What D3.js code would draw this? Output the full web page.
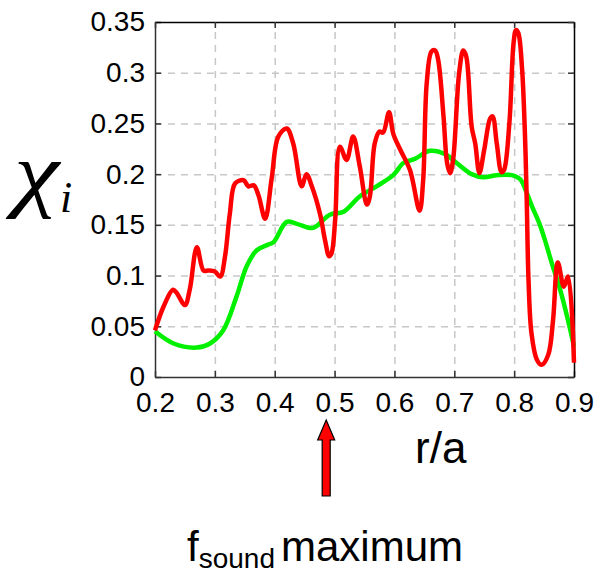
<!DOCTYPE html>
<html>
<head>
<meta charset="utf-8">
<script src="https://cdn.jsdelivr.net/npm/d3@7"></script>
<style>
    body { margin: 0; background: #fff; }
    svg { display: block; font-family: "Liberation Sans", Arial, sans-serif; }
    .grid line { stroke: #c8c8c8; stroke-width: 1.5; stroke-dasharray: 7,6; }
    .grid path { display: none; }
    .axis path { stroke: #333; stroke-width: 1.5; }
    .axis line { stroke: #333; stroke-width: 1.5; }
    .axis text { font-size: 28px; fill: #000; }
</style>
</head>
<body>
<div id="chart"></div>
<script>
// radial position r/a
const redX = [0.2, 0.214, 0.23, 0.236, 0.25, 0.258, 0.27, 0.281, 0.289, 0.3, 0.309, 0.317, 0.325, 0.334,
    0.348, 0.356, 0.365, 0.373, 0.384, 0.395, 0.406, 0.42, 0.431, 0.445, 0.453, 0.462, 0.476, 0.484, 0.491,
    0.495, 0.501, 0.509, 0.52, 0.531, 0.542, 0.554, 0.559, 0.567, 0.575, 0.581, 0.591, 0.598, 0.609, 0.626,
    0.642, 0.648, 0.654, 0.662, 0.668, 0.673, 0.682, 0.688, 0.693, 0.698, 0.708, 0.715, 0.72, 0.729, 0.735,
    0.742, 0.75, 0.76, 0.764, 0.771, 0.779, 0.783, 0.792, 0.799, 0.803, 0.807, 0.813, 0.818, 0.821, 0.824,
    0.829, 0.838, 0.846, 0.857, 0.865, 0.873, 0.883, 0.89, 0.9];
// chi_i, red curve
const redY = [0.046, 0.069, 0.086, 0.083, 0.071, 0.086, 0.128, 0.105, 0.105, 0.104, 0.099, 0.119, 0.161, 0.191,
    0.194, 0.188, 0.189, 0.179, 0.156, 0.196, 0.237, 0.245, 0.23, 0.188, 0.2, 0.188, 0.16, 0.135, 0.119,
    0.122, 0.155, 0.227, 0.214, 0.237, 0.208, 0.17, 0.178, 0.23, 0.242, 0.241, 0.261, 0.24, 0.225, 0.204,
    0.164, 0.194, 0.29, 0.321, 0.322, 0.313, 0.257, 0.211, 0.201, 0.214, 0.299, 0.322, 0.316, 0.247, 0.23,
    0.201, 0.224, 0.255, 0.257, 0.23, 0.202, 0.204, 0.25, 0.329, 0.342, 0.339, 0.306, 0.24, 0.175, 0.096,
    0.043, 0.017, 0.012, 0.022, 0.056, 0.113, 0.089, 0.099, 0.014];

// chi_i, green curve
const greenX = [0.2, 0.231, 0.27, 0.292, 0.314, 0.336, 0.353, 0.37, 0.387, 0.398, 0.42, 0.437, 0.464, 0.492,
    0.515, 0.542, 0.57, 0.598, 0.615, 0.634, 0.659, 0.684, 0.704, 0.729, 0.748, 0.771, 0.796, 0.81, 0.82,
    0.83, 0.843, 0.853, 0.863, 0.877, 0.89, 0.9];
const greenY = [0.045, 0.033, 0.029, 0.033, 0.046, 0.079, 0.109, 0.125, 0.13, 0.133, 0.153, 0.151, 0.147, 0.16,
    0.163, 0.178, 0.188, 0.199, 0.211, 0.215, 0.223, 0.22, 0.211, 0.2, 0.197, 0.199, 0.199, 0.195, 0.183,
    0.168, 0.15, 0.132, 0.112, 0.086, 0.056, 0.03];

const xTicks = [0.2, 0.3, 0.4, 0.5, 0.6, 0.7, 0.8, 0.9];
const xTickLabels = ['0.2', '0.3', '0.4', '0.5', '0.6', '0.7', '0.8', '0.9'];
const yTicks = [0, 0.05, 0.1, 0.15, 0.2, 0.25, 0.3, 0.35];
const yTickLabels = ['0', '0.05', '0.1', '0.15', '0.2', '0.25', '0.3', '0.35'];

// position of the sound frequency maximum
const soundMax = 0.486;

const width = 601;
const height = 574;
const margin = { top: 22, right: 27, bottom: 197, left: 155 };
const innerW = width - margin.left - margin.right;
const innerH = height - margin.top - margin.bottom;

const svg = d3.select('#chart')
    .append('svg')
    .attr('width', width)
    .attr('height', height);

const g = svg.append('g')
    .attr('transform', `translate(${margin.left},${margin.top})`);

const x = d3.scaleLinear().domain([0.2, 0.9]).range([0, innerW]);
const y = d3.scaleLinear().domain([0, 0.35]).range([innerH, 0]);

// dashed grid
g.append('g')
    .attr('class', 'grid')
    .attr('transform', `translate(0,${innerH})`)
    .call(d3.axisBottom(x).tickValues(xTicks.slice(1, -1)).tickSize(-innerH).tickFormat(''));
g.append('g')
    .attr('class', 'grid')
    .call(d3.axisLeft(y).tickValues(yTicks.slice(1, -1)).tickSize(-innerW).tickFormat(''));

// axes, ticks pointing inward
g.append('g')
    .attr('class', 'axis')
    .attr('transform', `translate(0,${innerH})`)
    .call(d3.axisBottom(x).tickValues(xTicks).tickSizeInner(-6).tickSizeOuter(0)
        .tickPadding(15).tickFormat((d, i) => xTickLabels[i]));
g.append('g')
    .attr('class', 'axis')
    .call(d3.axisLeft(y).tickValues(yTicks).tickSizeInner(-6).tickSizeOuter(0)
        .tickPadding(10).tickFormat((d, i) => yTickLabels[i]));
g.append('g')
    .attr('class', 'axis')
    .call(d3.axisTop(x).tickValues(xTicks).tickSizeInner(-6).tickSizeOuter(0).tickFormat(''))
    .select('path').style('stroke', '#000');
g.append('g')
    .attr('class', 'axis')
    .attr('transform', `translate(${innerW},0)`)
    .call(d3.axisRight(y).tickValues(yTicks).tickSizeInner(-6).tickSizeOuter(0).tickFormat(''))
    .select('path').style('stroke', '#000');

const line = d3.line()
    .x(d => x(d[0]))
    .y(d => y(d[1]))
    .curve(d3.curveCatmullRom.alpha(0.5));

g.append('path')
    .datum(greenX.map((v, i) => [v, greenY[i]]))
    .attr('fill', 'none')
    .attr('stroke', '#00f000')
    .attr('stroke-width', 4.5)
    .attr('stroke-linejoin', 'round')
    .attr('d', line);

g.append('path')
    .datum(redX.map((v, i) => [v, redY[i]]))
    .attr('fill', 'none')
    .attr('stroke', '#ff0000')
    .attr('stroke-width', 4.5)
    .attr('stroke-linejoin', 'round')
    .attr('d', line);

// axis labels
svg.append('text')
    .attr('x', 415)
    .attr('y', 463)
    .style('font-size', '44px')
    .text('r/a');

svg.append('text')
    .attr('transform', 'translate(14,201) scale(1.22,1)')
    .style('font-family', '"Liberation Serif", "Times New Roman", serif')
    .style('font-style', 'italic')
    .style('font-size', '84px')
    .text('χ');
svg.append('text')
    .attr('x', 60)
    .attr('y', 212)
    .style('font-family', '"Liberation Serif", "Times New Roman", serif')
    .style('font-style', 'italic')
    .style('font-size', '44px')
    .text('i');

// arrow marking the sound frequency maximum
const ax = margin.left + x(soundMax);
const arrow = d3.path();
arrow.moveTo(ax, 420);
arrow.lineTo(ax + 8.5, 440);
arrow.lineTo(ax + 4, 440);
arrow.lineTo(ax + 4, 496);
arrow.lineTo(ax - 4, 496);
arrow.lineTo(ax - 4, 440);
arrow.lineTo(ax - 8.5, 440);
arrow.closePath();
svg.append('path')
    .attr('d', arrow.toString())
    .attr('fill', '#ff0000')
    .attr('stroke', '#000')
    .attr('stroke-width', 1.2);

const note = svg.append('text')
    .attr('x', 187)
    .attr('y', 561)
    .style('font-size', '42px')
    .text('f');
note.append('tspan')
    .attr('dy', 7)
    .style('font-size', '28px')
    .text('sound');
note.append('tspan')
    .attr('dx', 6)
    .attr('dy', -7)
    .text('maximum');
</script>
</body>
</html>
